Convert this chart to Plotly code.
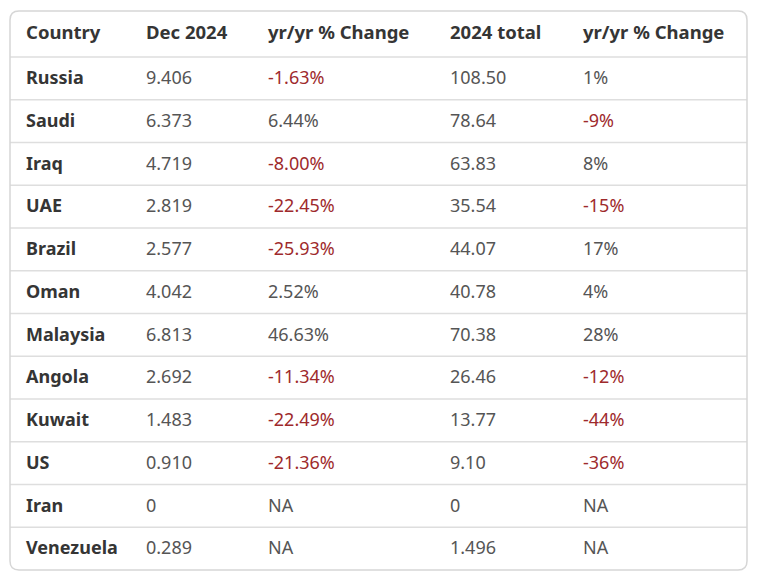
import plotly.graph_objects as go

countries = ["Russia", "Saudi", "Iraq", "UAE", "Brazil", "Oman", "Malaysia",
             "Angola", "Kuwait", "US", "Iran", "Venezuela"]
dec_2024 = ["9.406", "6.373", "4.719", "2.819", "2.577", "4.042", "6.813",
            "2.692", "1.483", "0.910", "0", "0.289"]
dec_change = [-1.63, 6.44, -8.00, -22.45, -25.93, 2.52, 46.63, -11.34,
              -22.49, -21.36, None, None]
total_2024 = ["108.50", "78.64", "63.83", "35.54", "44.07", "40.78", "70.38",
              "26.46", "13.77", "9.10", "0", "1.496"]
total_change = [1, -9, 8, -15, 17, 4, 28, -12, -44, -36, None, None]
headers = ["Country", "Dec 2024", "yr/yr % Change", "2024 total", "yr/yr % Change"]

W, H = 764, 585
RED = "#9e2a2c"
GRAY = "#555555"
DARK = "#353535"

def fmt(v, d):
    return "NA" if v is None else f"{v:.{d}f}%"

def col(v):
    return RED if (v is not None and v < 0) else GRAY

def span(t):
    return f"<span>{t}</span>"

dec_change_txt = [span(fmt(v, 2)) for v in dec_change]
total_change_txt = [span(fmt(v, 0)) for v in total_change]

box_l, box_r, box_t, box_b = 10, 747, 11, 570
head_h = 46
row_h = (box_b - box_t - head_h) / len(countries)

font_family = "Noto Sans"
n = len(countries)

fig = go.Figure(go.Table(
    domain=dict(x=[18 / W, box_r / W], y=[1 - box_b / H, 1 - box_t / H]),
    columnwidth=[120, 122, 182, 133, 172],
    header=dict(
        values=[f"<b>{h}</b>" for h in headers],
        align="left",
        height=head_h,
        fill=dict(color="rgba(0,0,0,0)"),
        line=dict(width=0, color="rgba(0,0,0,0)"),
        font=dict(family=font_family, size=18.5, color=DARK),
    ),
    cells=dict(
        values=[[f"<b>{c}</b>" for c in countries],
                [span(v) for v in dec_2024], dec_change_txt,
                [span(v) for v in total_2024], total_change_txt],
        align="left",
        height=row_h,
        fill=dict(color="rgba(0,0,0,0)"),
        line=dict(width=0, color="rgba(0,0,0,0)"),
        font=dict(family=font_family, size=18,
                  color=[[DARK] * n, [GRAY] * n,
                         [col(v) for v in dec_change], [GRAY] * n,
                         [col(v) for v in total_change]]),
    ),
))

shapes = []
# row separators
for i in range(n):
    y = box_t + head_h + i * row_h
    shapes.append(dict(type="line", xref="paper", yref="paper",
                       x0=box_l / W, x1=box_r / W, y0=1 - y / H, y1=1 - y / H,
                       line=dict(color="#dedede", width=1.5), layer="below"))
# rounded outer border
r = 9
x0, x1 = box_l, box_r
yt, yb = box_t, box_b
def P(x, y):
    return f"{x / W:.5f},{1 - y / H:.5f}"
path = (f"M {P(x0 + r, yt)} L {P(x1 - r, yt)} Q {P(x1, yt)} {P(x1, yt + r)} "
        f"L {P(x1, yb - r)} Q {P(x1, yb)} {P(x1 - r, yb)} "
        f"L {P(x0 + r, yb)} Q {P(x0, yb)} {P(x0, yb - r)} "
        f"L {P(x0, yt + r)} Q {P(x0, yt)} {P(x0 + r, yt)} Z")
shapes.append(dict(type="path", xref="paper", yref="paper", path=path,
                   line=dict(color="#d6d6d6", width=1.5), layer="below"))

fig.update_layout(
    width=W, height=H,
    margin=dict(l=0, r=0, t=0, b=0),
    paper_bgcolor="white",
    plot_bgcolor="white",
    shapes=shapes,
)

fig.write_html("out.html", config={"displayModeBar": False},
               post_script="document.body.style.margin='0';")
